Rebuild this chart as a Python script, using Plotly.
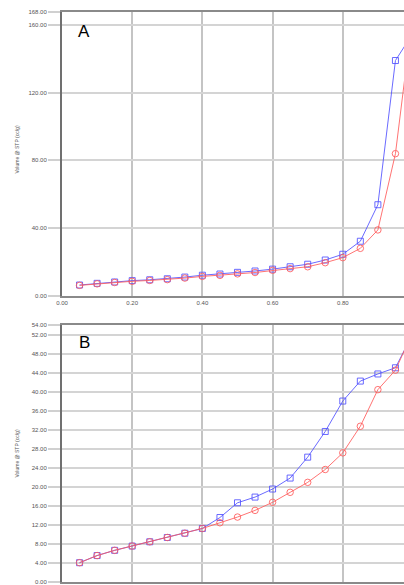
import plotly.graph_objects as go

# Relative pressure (x) shared by both panels
rel_pressure = [0.05, 0.10, 0.15, 0.20, 0.25, 0.30, 0.35, 0.40, 0.45, 0.50,
                0.55, 0.60, 0.65, 0.70, 0.75, 0.80, 0.85, 0.90, 0.95, 0.99]

# Panel A
a_desorption = [6.2, 7.2, 8.0, 8.8, 9.3, 9.9, 10.9, 12.0, 12.7, 13.7,
                14.5, 15.6, 17.0, 18.5, 21.0, 24.4, 32.1, 53.7, 139.0, 152.0]
a_adsorption = [6.0, 6.9, 7.7, 8.4, 8.9, 9.4, 10.3, 11.3, 11.9, 12.8,
                13.6, 14.9, 15.9, 17.0, 19.4, 22.4, 27.9, 38.8, 83.9, 151.0]

# Panel B
b_desorption = [4.0, 5.5, 6.6, 7.5, 8.4, 9.3, 10.2, 11.2, 13.5, 16.6,
                17.8, 19.5, 21.8, 26.2, 31.6, 38.0, 42.2, 43.7, 45.0, 50.8]
b_adsorption = [4.0, 5.5, 6.6, 7.5, 8.4, 9.3, 10.2, 11.2, 12.4, 13.6,
                15.0, 16.7, 18.8, 20.9, 23.6, 27.1, 32.7, 40.4, 44.5, 51.0]

x_ticks = [0.0, 0.2, 0.4, 0.6, 0.8, 1.0]
a_yticks = [0, 40, 80, 120, 160, 168]
b_yticks = [0, 4, 8, 12, 16, 20, 24, 28, 32, 36, 40, 44, 48, 52, 54]
y_title = "Volume @ STP (cc/g)"

BLUE = "rgba(80,80,255,0.85)"
RED = "rgba(255,90,90,0.85)"

fig = go.Figure()


def add_pair(desorp, adsorp, xa, ya):
    fig.add_trace(go.Scatter(
        x=rel_pressure, y=desorp, xaxis=xa, yaxis=ya, mode="lines+markers",
        line=dict(color=BLUE, width=1),
        marker=dict(symbol="square-open", size=6, color=BLUE, line=dict(width=1)),
        showlegend=False, cliponaxis=True))
    fig.add_trace(go.Scatter(
        x=rel_pressure, y=adsorp, xaxis=xa, yaxis=ya, mode="lines+markers",
        line=dict(color=RED, width=1),
        marker=dict(symbol="circle-open", size=6.5, color=RED, line=dict(width=1)),
        showlegend=False, cliponaxis=True))


add_pair(a_desorption, a_adsorption, "x", "y")
add_pair(b_desorption, b_adsorption, "x2", "y2")

H = 585.0


def dom(top_px, bot_px):
    return [(H - bot_px) / H, (H - top_px) / H]


tickfont = dict(family="Liberation Sans, Arial", size=6, color="#555555")
xcommon = dict(range=[0, 0.9744], tickvals=x_ticks, tickformat=".2f",
               showgrid=True, gridcolor="#c4c4c4", gridwidth=1.5,
               showline=True, linecolor="#8a8a8a", linewidth=2, mirror=True,
               ticks="", tickfont=tickfont, zeroline=False, fixedrange=True)
ycommon = dict(tickformat=".2f", showgrid=True, gridcolor="#d4d4d4", gridwidth=1.5,
               showline=True, linecolor="#707070", linewidth=2,
               ticks="outside", ticklen=12, tickcolor="#d0d0d0", tickwidth=1.5,
               tickfont=tickfont, zeroline=False, fixedrange=True)

fig.update_layout(
    width=404, height=585,
    margin=dict(l=62, r=0, t=0, b=0, autoexpand=False),
    paper_bgcolor="white", plot_bgcolor="white",
    xaxis=dict(domain=[0, 1], anchor="y", **xcommon),
    yaxis=dict(domain=dom(11.5, 295.5), anchor="x", range=[0, 168],
               tickvals=a_yticks, **ycommon),
    xaxis2=dict(domain=[0, 1], anchor="y2", **xcommon),
    yaxis2=dict(domain=dom(325, 581.7), anchor="x2", range=[0, 54],
                tickvals=b_yticks, **ycommon),
)

title_font = dict(family="Liberation Sans, Arial", size=5, color="#555555")
label_font = dict(family="Liberation Sans, Arial", size=17, color="black")
px_x = lambda px: (px - 62) / 342.0

annotations = [
    dict(text="A", x=px_x(83.5), y=(H - 31) / H, xref="paper", yref="paper",
         showarrow=False, font=label_font, xanchor="center", yanchor="middle"),
    dict(text="B", x=px_x(84), y=(H - 342.5) / H, xref="paper", yref="paper",
         showarrow=False, font=label_font, xanchor="center", yanchor="middle"),
    dict(text=y_title, x=px_x(16), y=(H - 149.5) / H, xref="paper", yref="paper",
         showarrow=False, font=title_font, textangle=-90,
         xanchor="center", yanchor="middle"),
    dict(text=y_title, x=px_x(16), y=(H - 453.5) / H, xref="paper", yref="paper",
         showarrow=False, font=title_font, textangle=-90,
         xanchor="center", yanchor="middle"),
]
fig.update_layout(annotations=annotations)

fig.write_html("out.html")
